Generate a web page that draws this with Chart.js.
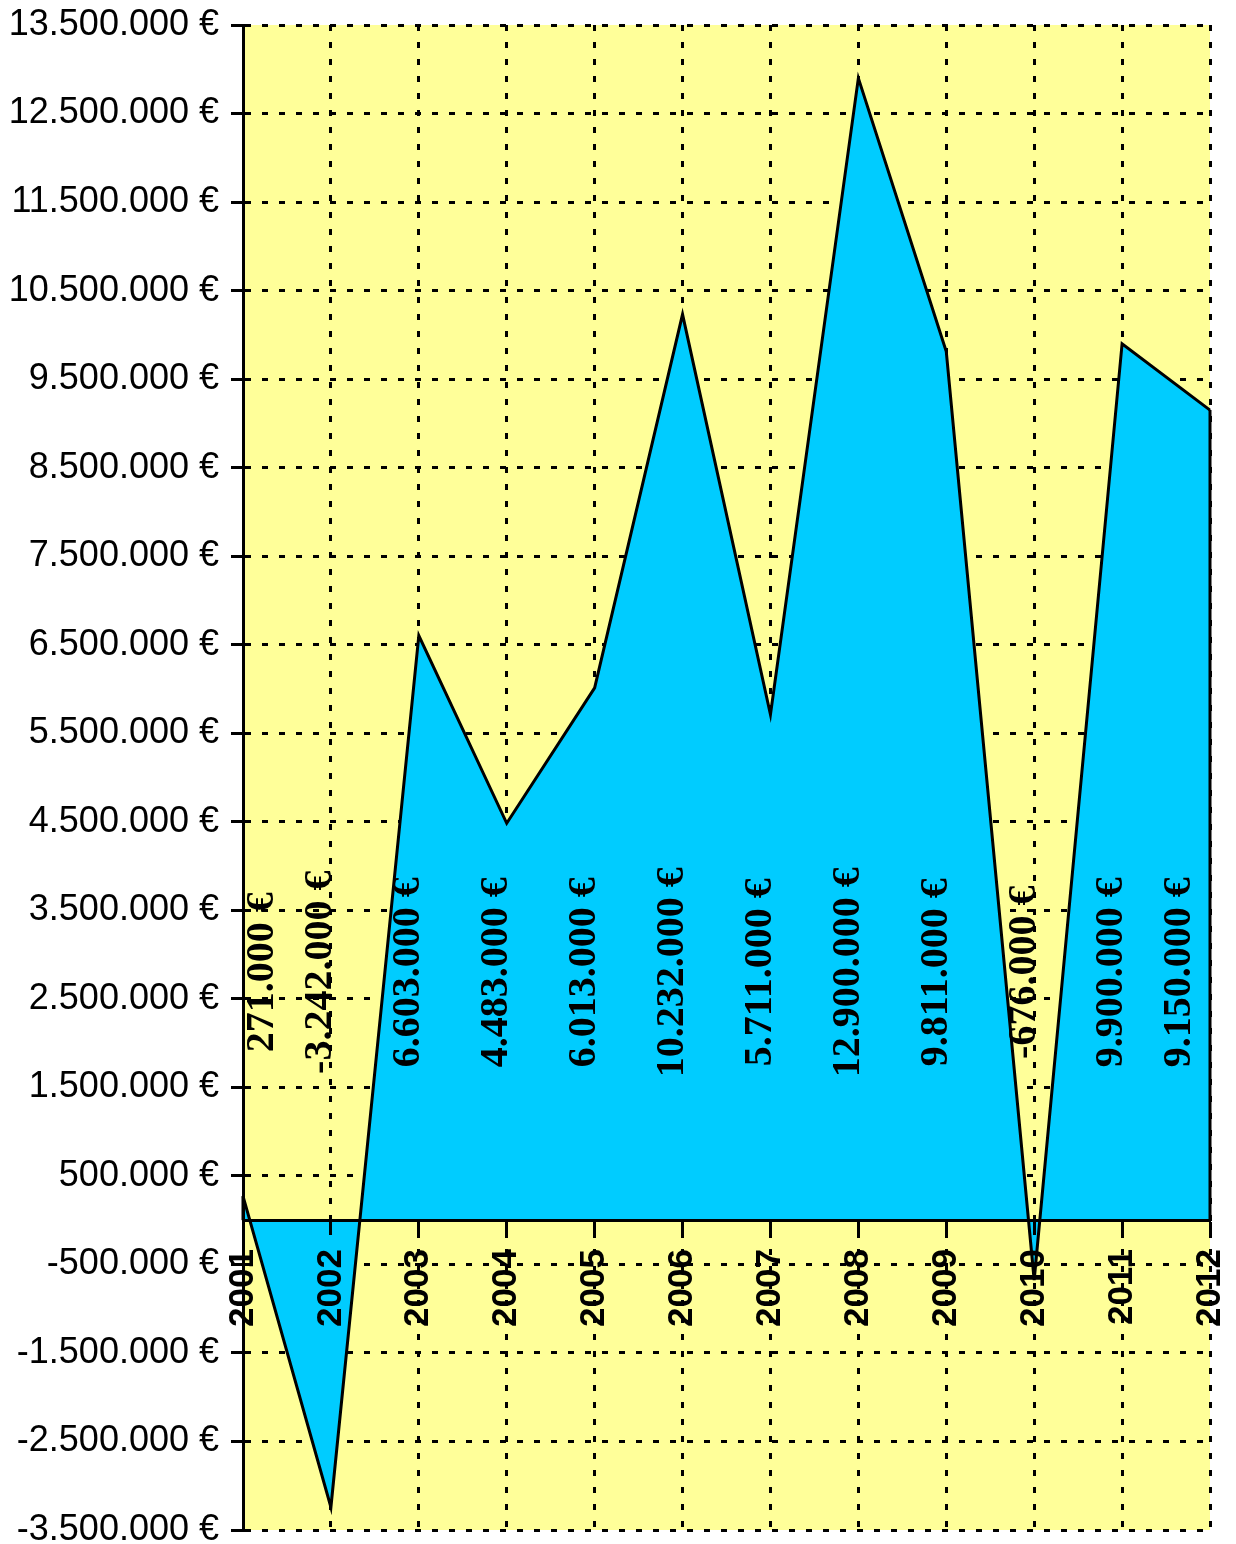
<!DOCTYPE html>
<html>
<head>
<meta charset="utf-8">
<title>Ergebnis 2001-2012</title>
<script src="https://cdn.jsdelivr.net/npm/chart.js@4"></script>
<style>
  body { margin: 0; background: #fff; }
  canvas { display: block; }
</style>
</head>
<body>
<canvas id="chart" width="1236" height="1544"></canvas>
<script>
const years = ['2001', '2002', '2003', '2004', '2005', '2006', '2007', '2008', '2009', '2010', '2011', '2012'];
const results = [271000, -3242000, 6603000, 4483000, 6013000, 10232000, 5711000, 12900000, 9811000, -676000, 9900000, 9150000];
const yTicks = [-3500000, -2500000, -1500000, -500000, 500000, 1500000, 2500000, 3500000, 4500000,
  5500000, 6500000, 7500000, 8500000, 9500000, 10500000, 11500000, 12500000, 13500000];

// where the rotated value labels sit (value on the y axis)
const labelLevel = 2800000;

function euro(v) {
  const s = Math.abs(Math.round(v)).toString().replace(/\B(?=(\d{3})+(?!\d))/g, '.');
  return (v < 0 ? '-' : '') + s + ' €';
}

const plotBackground = {
  id: 'plotBackground',
  beforeDraw(chart) {
    const { ctx, chartArea: a } = chart;
    ctx.save();
    ctx.fillStyle = '#FFFF99';
    ctx.fillRect(a.left, a.top, a.right - a.left, a.bottom - a.top);
    ctx.restore();
  }
};

// close the area outline at both ends, like the spreadsheet does
const areaEdges = {
  id: 'areaEdges',
  afterDatasetsDraw(chart) {
    const { ctx } = chart;
    const pts = chart.getDatasetMeta(0).data;
    const y0 = chart.scales.y.getPixelForValue(0);
    ctx.save();
    ctx.strokeStyle = '#000';
    ctx.lineWidth = 3;
    [pts[0], pts[pts.length - 1]].forEach(p => {
      ctx.beginPath();
      ctx.moveTo(p.x, p.y);
      ctx.lineTo(p.x, y0);
      ctx.stroke();
    });
    ctx.restore();
  }
};

const valueLabels = {
  id: 'valueLabels',
  afterDraw(chart) {
    const { ctx, chartArea: a } = chart;
    const xs = chart.scales.x, ys = chart.scales.y;
    const cy = ys.getPixelForValue(labelLevel);
    ctx.save();
    ctx.font = 'bold 40px "Liberation Serif", "Times New Roman", serif';
    ctx.fillStyle = '#000';
    ctx.textAlign = 'center';
    ctx.textBaseline = 'middle';
    results.forEach((v, i) => {
      let cx = xs.getPixelForValue(i) - 10;
      cx = Math.max(a.left + 20, Math.min(a.right - 30, cx));
      ctx.save();
      ctx.translate(cx, cy);
      ctx.rotate(-Math.PI / 2);
      ctx.fillText(euro(v), 0, 0);
      ctx.restore();
    });
    ctx.restore();
  }
};

const noPad = s => { s.paddingLeft = 0; s.paddingRight = 0; s.paddingTop = 0; s.paddingBottom = 0; };

new Chart(document.getElementById('chart'), {
  type: 'line',
  data: {
    labels: years,
    datasets: [{
      data: results,
      borderColor: '#000',
      borderWidth: 3,
      backgroundColor: '#00CCFF',
      fill: 'origin',
      tension: 0,
      pointRadius: 0
    }]
  },
  options: {
    responsive: false,
    devicePixelRatio: 1,
    animation: false,
    layout: { padding: { top: 25, right: 26, bottom: 14, left: 0 } },
    plugins: { legend: { display: false }, tooltip: { enabled: false } },
    scales: {
      x: {
        type: 'category',
        position: { y: 0 },
        offset: false,
        ticks: { display: false },
        grid: { color: '#000', lineWidth: 3, drawTicks: false },
        border: { display: false, dash: [6, 11] },
        afterFit: noPad
      },
      x2: {
        type: 'category',
        axis: 'x',
        labels: years,
        position: { y: 0 },
        offset: false,
        ticks: {
          z: 1,
          autoSkip: false,
          minRotation: 90,
          maxRotation: 90,
          padding: 16,
          color: '#000',
          font: { family: '"Liberation Sans", Arial, sans-serif', size: 35, weight: 'bold' }
        },
        grid: { z: 1, drawOnChartArea: false, tickLength: 13, tickWidth: 3, tickColor: '#000', tickBorderDash: [] },
        border: { z: 1, display: true, color: '#000', width: 3 },
        afterFit: noPad
      },
      y: {
        min: -3500000,
        max: 13500000,
        afterBuildTicks: s => { s.ticks = yTicks.map(v => ({ value: v })); },
        afterFit: s => { s.width = 243; s.paddingTop = 0; s.paddingBottom = 0; },
        ticks: {
          color: '#000',
          padding: 12,
          font: { family: '"Liberation Sans", Arial, sans-serif', size: 36 },
          callback: v => euro(v)
        },
        grid: { color: '#000', lineWidth: 3, tickLength: 12, tickWidth: 3, tickColor: '#000', tickBorderDash: [] },
        border: { z: 1, display: true, color: '#000', width: 3, dash: [6, 11] }
      }
    }
  },
  plugins: [plotBackground, areaEdges, valueLabels]
});
</script>
</body>
</html>
